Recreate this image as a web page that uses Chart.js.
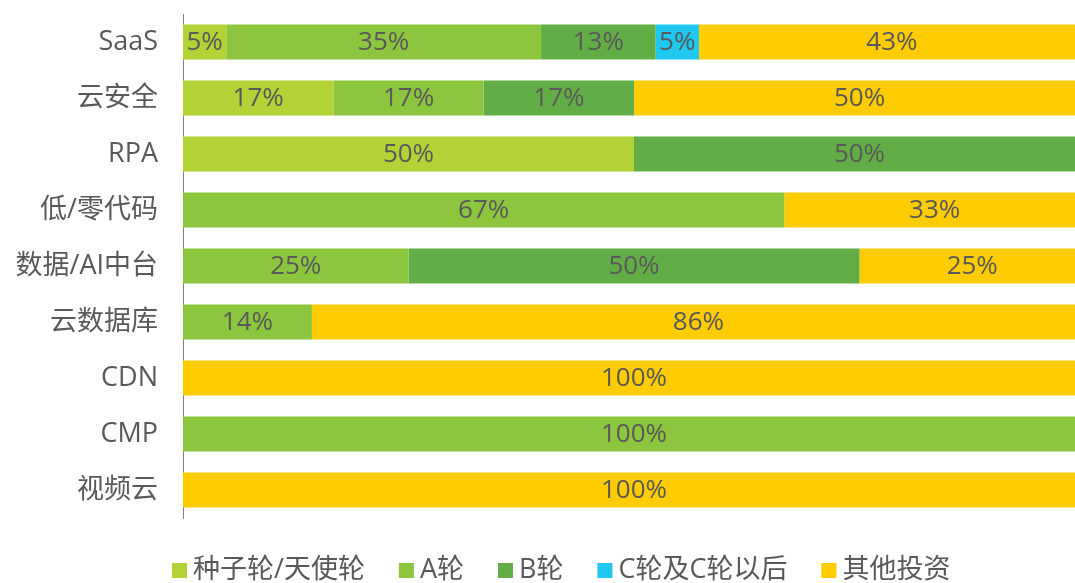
<!DOCTYPE html>
<html>
<head>
<meta charset="utf-8">
<script src="https://cdn.jsdelivr.net/npm/chart.js@4.4.0/dist/chart.umd.min.js"></script>
<style>
  html, body { margin: 0; padding: 0; background: #fff; overflow: hidden; }
  #wrap { width: 1075px; height: 583px; overflow: hidden; }
</style>
</head>
<body>
<div id="wrap"><canvas id="myBarGraph" width="1085" height="583"></canvas></div>
<script>
// the original image is cut off on the right, so the canvas runs ~10px past the window
var categories = ["SaaS", "云安全", "RPA", "低/零代码", "数据/AI中台", "云数据库", "CDN", "CMP", "视频云"];
var seriesNames = ["种子轮/天使轮", "A轮", "B轮", "C轮及C轮以后", "其他投资"];
var seedAngel = [4.8, 16.67, 50, 0, 0, 0, 0, 0, 0];
var roundA = [34.9, 16.67, 0, 66.67, 25, 14.29, 0, 100, 0];
var roundB = [12.7, 16.67, 50, 0, 50, 0, 0, 0, 0];
var roundC = [4.8, 0, 0, 0, 0, 0, 0, 0, 0];
var others = [42.8, 50, 0, 33.33, 25, 85.71, 100, 0, 100];
var colors = ["#b2d235", "#8cc63f", "#62ad45", "#1ec8f0", "#ffcc00"];

var fontFamily = '"Open Sans", "Noto Sans CJK SC", sans-serif';
var textColor = "#595959";

// percent text in the middle of each segment
var barLabels = {
  id: "barLabels",
  afterDatasetsDraw: function(chart) {
    var ctx = chart.ctx;
    ctx.save();
    ctx.font = "26px " + fontFamily;
    ctx.fillStyle = textColor;
    ctx.textAlign = "center";
    ctx.textBaseline = "middle";
    chart.data.datasets.forEach(function(ds, i) {
      var meta = chart.getDatasetMeta(i);
      meta.data.forEach(function(bar, j) {
        var v = ds.data[j];
        if (!v) return;
        ctx.fillText(Math.round(v) + "%", (bar.x + bar.base) / 2, bar.y + 1);
      });
    });
    ctx.restore();
  }
};

// legend drawn by hand so the gaps match the original
var bottomLegend = {
  id: "bottomLegend",
  afterDraw: function(chart) {
    var ctx = chart.ctx;
    ctx.save();
    ctx.font = "27px " + fontFamily;
    ctx.textBaseline = "middle";
    ctx.textAlign = "left";
    var x = 172, y = 570;
    chart.data.datasets.forEach(function(ds) {
      ctx.fillStyle = ds.backgroundColor;
      ctx.fillRect(x, y - 7, 15, 15);
      x += 15 + 6;
      ctx.fillStyle = textColor;
      ctx.fillText(ds.label, x, y);
      x += ctx.measureText(ds.label).width + 34;
    });
    ctx.restore();
  }
};

var allSeries = [seedAngel, roundA, roundB, roundC, others];

var myBarGraph = new Chart(document.getElementById("myBarGraph").getContext("2d"), {
  type: "bar",
  data: {
    labels: categories,
    datasets: allSeries.map(function(d, i) {
      return {
        label: seriesNames[i],
        data: d,
        backgroundColor: colors[i],
        borderWidth: 0,
        categoryPercentage: 1,
        barPercentage: 0.625
      };
    })
  },
  options: {
    indexAxis: "y",
    responsive: false,
    animation: false,
    layout: { padding: { top: 14, right: 0, left: 0, bottom: 65 } },
    scales: {
      x: {
        stacked: true,
        min: 0,
        max: 100,
        display: false
      },
      y: {
        stacked: true,
        grid: { display: false, drawTicks: false },
        border: { display: true, color: "#808080", width: 1 },
        ticks: {
          color: textColor,
          padding: 25,
          font: { size: 27, family: fontFamily }
        },
        afterFit: function(scale) {
          scale.width = 183;
          scale.paddingTop = 0;
          scale.paddingBottom = 0;
        }
      }
    },
    plugins: {
      legend: { display: false },
      tooltip: { enabled: false }
    }
  },
  plugins: [barLabels, bottomLegend]
});
</script>
</body>
</html>
